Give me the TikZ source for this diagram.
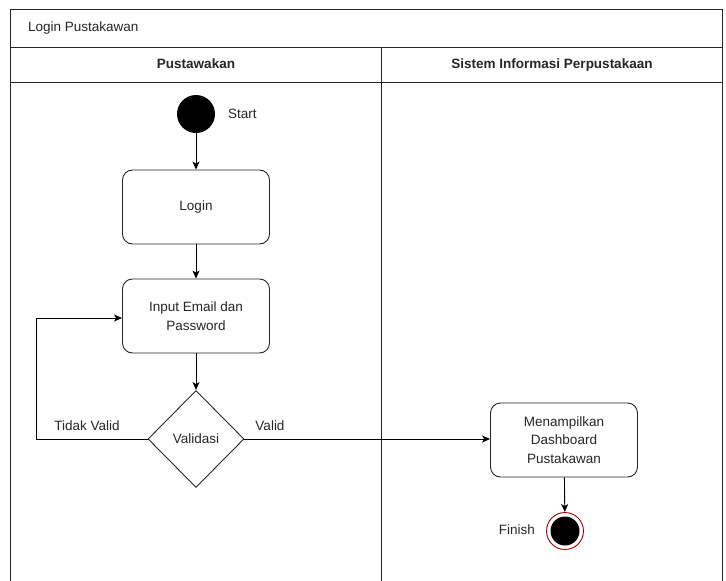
\documentclass[tikz,border=0pt]{standalone}
\usepackage{fontspec}
\setmainfont{Liberation Sans}
\usetikzlibrary{shapes.geometric,arrows.meta}
\begin{document}
\begin{tikzpicture}[x=1pt,y=-1pt,
  every node/.style={font=\fontsize{13.5}{18.5}\selectfont, text=black!85},
  frame/.style={draw=black!85, line width=0.9pt},
  actbox/.style={draw=black!85, line width=0.9pt, rounded corners=10pt, fill=white, minimum width=147pt, minimum height=74pt, align=center},
  decision/.style={draw=black!85, line width=0.9pt, diamond, fill=white, minimum width=96pt, minimum height=97pt, inner sep=0pt},
  flow/.style={draw=black, line width=0.9pt, -{Stealth[length=8pt,width=7pt,inset=2pt]}},
  lbl/.style={inner sep=0pt, text height=9.5pt, text depth=2.5pt}]
\useasboundingbox (0,0) rectangle (726,581);
% frame and lanes
\draw[frame] (10,581) -- (10,9) -- (722,9) -- (722,581);
\draw[frame] (10,47) -- (722,47);
\draw[frame] (10,82) -- (722,82);
\draw[frame] (381,47) -- (381,581);
\node[lbl, anchor=west] (title) at (28,28) {Login Pustakawan};
\node[lbl, font=\fontsize{13.5}{16}\selectfont\bfseries] (lane1) at (196,65) {Pustawakan};
\node[lbl, font=\fontsize{13.5}{16}\selectfont\bfseries] (lane2) at (552,65) {Sistem Informasi Perpustakaan};
% nodes
\node[circle, fill=black, minimum size=38pt, inner sep=0pt] (start) at (196,114) {};
\node[lbl, anchor=west] (startlbl) at (228,115) {Start};
\node[actbox] (login) at (196,207) {Login};
\node[actbox] (input) at (196,316) {Input Email dan\\Password};
\node[decision] (valid) at (196,439) {Validasi};
\node[actbox] (dash) at (564,440) {Menampilkan\\Dashboard\\Pustakawan};
\node[circle, draw=red!70!black, line width=0.9pt, fill=white, minimum size=37pt, inner sep=0pt] (finish) at (565,531) {};
\node[circle, fill=black, minimum size=29pt, inner sep=0pt] (finishin) at (565,531) {};
\node[lbl, anchor=east] (finishlbl) at (535,531) {Finish};
\coordinate (loopa) at (36,439);
\coordinate (loopb) at (36,318);
% connectors
\draw[flow] (start) -- (login);
\draw[flow] (login) -- (input);
\draw[flow] (input) -- (valid);
\draw[flow] (valid.west) -- (loopa) -- (loopb) -- (input.west |- loopb);
\draw[flow] (valid.east) -- (dash.west |- valid.east);
\draw[flow] (dash) -- (finish);
\node[lbl] (tv) at (87,427) {Tidak Valid};
\node[lbl] (v) at (270,427) {Valid};
\end{tikzpicture}
\end{document}
